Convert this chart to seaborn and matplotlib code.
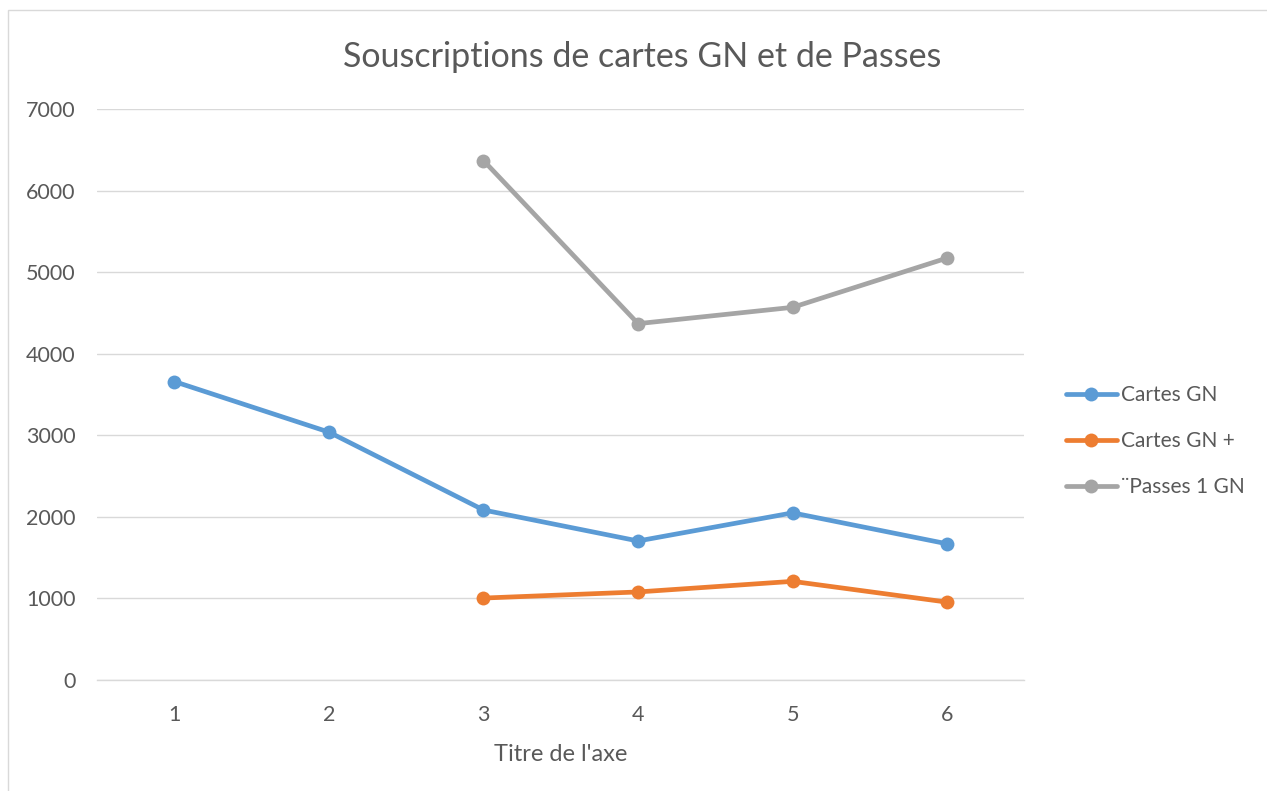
import numpy as np
import pandas as pd
import seaborn as sns
import matplotlib.pyplot as plt
from matplotlib.patches import Rectangle

# values
periods = [1, 2, 3, 4, 5, 6]
cartes_gn = [3660, 3040, 2085, 1705, 2050, 1670]
cartes_gn_plus = [np.nan, np.nan, 1005, 1080, 1210, 955]
passes_1_gn = [np.nan, np.nan, 6370, 4370, 4570, 5175]
series_names = ["Cartes GN", "Cartes GN +", "\u00a8Passes 1 GN"]
colors = ["#5B9BD5", "#ED7D31", "#A5A5A5"]
y_ticks = [0, 1000, 2000, 3000, 4000, 5000, 6000, 7000]

df = pd.DataFrame({
    "periode": periods * 3,
    "valeur": cartes_gn + cartes_gn_plus + passes_1_gn,
    "serie": [n for n in series_names for _ in periods],
}).dropna()

sns.set_theme(style="white")
plt.rcParams["font.family"] = ["Lato", "DejaVu Sans"]
text_color = "#595959"

fig = plt.figure(figsize=(12.67, 7.91), dpi=100)
ax = fig.add_axes([0.0766, 0.1403, 0.7320, 0.7217])

sns.lineplot(data=df, x="periode", y="valeur", hue="serie",
             hue_order=series_names, palette=colors, marker="o",
             markersize=10, markeredgewidth=0, linewidth=3.4,
             sort=False, ax=ax, legend=True)

ax.set_xlim(0.5, 6.5)
ax.set_ylim(0, 7000)
ax.set_yticks(y_ticks)
ax.set_xticks(periods)
ax.set_xticklabels([str(p) for p in periods])
ax.yaxis.grid(True, color="#D9D9D9", linewidth=1)
ax.xaxis.grid(False)
for side in ["top", "right", "left"]:
    ax.spines[side].set_visible(False)
ax.spines["bottom"].set_color("#D9D9D9")
ax.spines["bottom"].set_linewidth(1)
ax.tick_params(axis="both", length=0, labelsize=15.5, colors=text_color)
ax.tick_params(axis="x", pad=18)
ax.tick_params(axis="y", pad=15.5)

ax.set_xlabel("Titre de l'axe", fontsize=17, color=text_color, labelpad=14)
ax.set_ylabel("")
fig.text(0.507, 0.928, "Souscriptions de cartes GN et de Passes",
         ha="center", va="center", fontsize=24.5, color=text_color)

handles, labels = ax.get_legend_handles_labels()
ax.legend(handles, labels, loc="center left", bbox_to_anchor=(1.024, 0.418),
          frameon=False, fontsize=15, labelcolor=text_color,
          handlelength=2.45, handletextpad=0.2, labelspacing=1.25)

# chart area border
fig.patches.append(Rectangle((8 / 1267, -0.01), 1.2, 1 - 10 / 791 + 0.01,
                             transform=fig.transFigure, fill=False,
                             edgecolor="#D9D9D9", linewidth=1))

fig.savefig("out.png", dpi=100)
